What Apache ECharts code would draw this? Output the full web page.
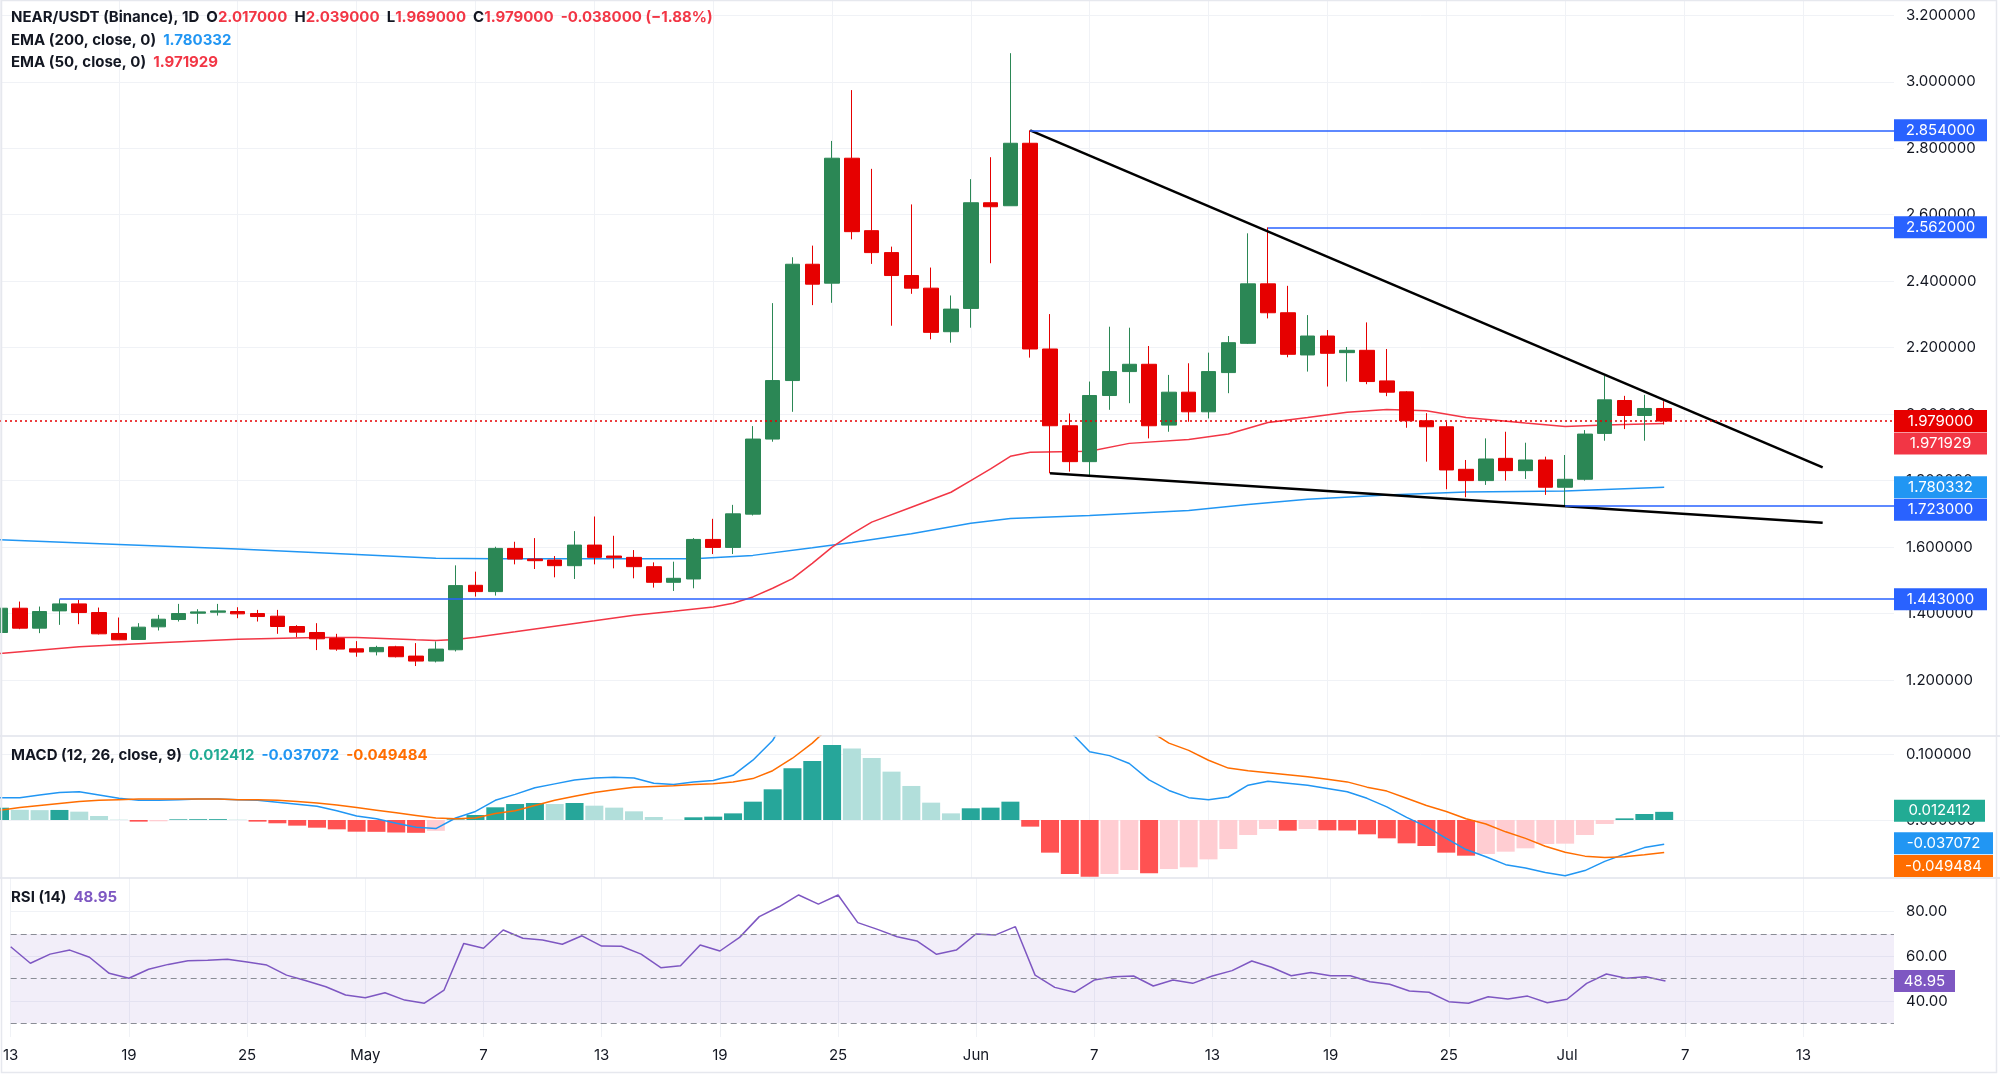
<!DOCTYPE html>
<html><head><meta charset="utf-8">
<script src="https://cdn.jsdelivr.net/npm/echarts@6/dist/echarts.min.js"></script>
<style>html,body{margin:0;padding:0;background:#fff}#c{width:2000px;height:1087px}</style>
</head><body><div id="c"></div>
<script>
// ---------------- DATA (day index 0 = Apr 13) ----------------
const opens  = [1.343,1.416,1.356,1.408,1.429,1.403,1.340,1.322,1.360,1.382,1.401,1.404,1.406,1.400,1.392,1.361,1.343,1.325,1.294,1.285,1.300,1.272,1.257,1.291,1.485,1.466,1.596,1.564,1.561,1.544,1.606,1.573,1.569,1.541,1.494,1.504,1.623,1.599,1.699,1.925,2.101,2.451,2.394,2.770,2.552,2.486,2.417,2.379,2.248,2.318,2.636,2.627,2.815,2.196,1.965,1.857,2.056,2.128,2.150,1.967,2.066,2.007,2.125,2.213,2.392,2.305,2.178,2.235,2.185,2.192,2.100,2.067,1.980,1.962,1.834,1.800,1.867,1.830,1.862,1.780,1.804,1.942,2.041,1.996,2.017];
const highs  = [1.425,1.436,1.421,1.443,1.441,1.418,1.388,1.371,1.396,1.429,1.413,1.429,1.419,1.411,1.411,1.365,1.371,1.339,1.317,1.303,1.303,1.311,1.316,1.545,1.526,1.601,1.616,1.627,1.573,1.648,1.692,1.634,1.591,1.554,1.556,1.627,1.685,1.727,1.964,2.334,2.472,2.507,2.822,2.975,2.738,2.504,2.631,2.441,2.357,2.707,2.773,3.086,2.854,2.301,2.002,2.098,2.263,2.260,2.205,2.118,2.153,2.185,2.235,2.544,2.562,2.386,2.298,2.253,2.202,2.276,2.196,2.069,2.003,1.977,1.862,1.927,1.947,1.914,1.872,1.877,1.952,2.115,2.055,2.058,2.039];
const lows   = [1.335,1.353,1.341,1.366,1.368,1.337,1.321,1.321,1.349,1.376,1.369,1.394,1.386,1.376,1.339,1.329,1.290,1.288,1.270,1.274,1.268,1.242,1.253,1.286,1.451,1.454,1.548,1.534,1.509,1.504,1.548,1.536,1.506,1.478,1.468,1.476,1.579,1.579,1.695,1.917,2.007,2.328,2.335,2.526,2.452,2.266,2.362,2.225,2.215,2.260,2.454,2.627,2.170,1.822,1.827,1.812,2.013,2.033,1.927,1.947,1.977,1.987,2.063,2.211,2.288,2.171,2.128,2.083,2.098,2.090,2.054,1.959,1.857,1.774,1.750,1.787,1.800,1.805,1.757,1.723,1.800,1.920,1.955,1.920,1.969];
const closes = [1.416,1.356,1.406,1.429,1.403,1.339,1.321,1.359,1.383,1.400,1.405,1.408,1.399,1.391,1.361,1.344,1.324,1.293,1.284,1.298,1.270,1.257,1.293,1.484,1.466,1.596,1.564,1.559,1.544,1.606,1.569,1.568,1.541,1.494,1.506,1.623,1.599,1.700,1.925,2.101,2.451,2.391,2.770,2.549,2.486,2.417,2.379,2.246,2.316,2.636,2.624,2.815,2.196,1.965,1.857,2.056,2.128,2.150,1.965,2.066,2.007,2.128,2.215,2.392,2.305,2.180,2.235,2.183,2.192,2.098,2.066,1.980,1.962,1.832,1.800,1.865,1.830,1.862,1.780,1.804,1.940,2.043,1.996,2.017,1.979];

const ema200Days = [0,6,12,18,22,25,30,35,38,41,43,46,49,51,55,60,63,66,70,74,79,84];
const ema200Vals = [1.622,1.608,1.594,1.578,1.566,1.565,1.565,1.565,1.575,1.598,1.614,1.640,1.672,1.686,1.695,1.710,1.728,1.744,1.757,1.766,1.769,1.780332];
const ema50Days  = [0,4,8,12,16,18,21,22,23,24,26,28,30,32,34,36,37,38,39,40,41,42,43,44,46,48,49,50,51,52,55,57,60,62,64,66,68,70,72,74,77,79,81,84];
const ema50Vals  = [1.280,1.300,1.312,1.323,1.328,1.328,1.321,1.319,1.322,1.329,1.345,1.362,1.378,1.395,1.407,1.420,1.431,1.450,1.476,1.505,1.551,1.600,1.640,1.675,1.720,1.765,1.800,1.835,1.873,1.885,1.888,1.912,1.924,1.940,1.975,1.990,2.006,2.014,2.010,1.990,1.973,1.963,1.967,1.971929];

const macdHist = [0.0187,0.0155,0.0150,0.0153,0.0127,0.0061,0.0005,-0.0025,-0.0020,0.0010,
  0.0012,0.0013,0.0005,-0.0025,-0.0050,-0.0086,-0.0117,-0.0142,-0.0178,-0.0180,
  -0.0190,-0.0195,-0.0165,0.0010,0.0076,0.0193,0.0243,0.0259,0.0243,0.0259,
  0.0218,0.0188,0.0132,0.0046,0.0005,0.0041,0.0051,0.0101,0.0279,0.0467,
  0.0787,0.0898,0.1140,0.1090,0.0944,0.0736,0.0518,0.0264,0.0101,0.0178,
  0.0188,0.0279,-0.0101,-0.0497,-0.0822,-0.0863,-0.0822,-0.0761,-0.0812,-0.0746,
  -0.0720,-0.0599,-0.0442,-0.0228,-0.0137,-0.0162,-0.0137,-0.0157,-0.0160,-0.0218,
  -0.0279,-0.0355,-0.0396,-0.0497,-0.0543,-0.0517,-0.0482,-0.0431,-0.0365,-0.0360,
  -0.0228,-0.0061,0.0025,0.0091,0.012412];
const macdLine = [0.034,0.034,0.038,0.042,0.043,0.038,0.033,0.030,0.030,0.031,
  0.032,0.032,0.031,0.030,0.027,0.024,0.021,0.014,0.006,0.002,
  -0.005,-0.011,-0.013,0.003,0.013,0.030,0.039,0.049,0.055,0.061,
  0.064,0.065,0.064,0.056,0.054,0.058,0.060,0.068,0.091,0.121,
  0.173,0.207,0.259,0.282,0.291,0.288,0.280,0.261,0.247,0.259,
  0.265,0.281,0.240,0.188,0.135,0.104,0.098,0.086,0.061,0.045,
  0.034,0.031,0.035,0.053,0.059,0.056,0.053,0.048,0.043,0.033,
  0.020,0.004,-0.010,-0.028,-0.045,-0.056,-0.068,-0.073,-0.080,-0.085,
  -0.077,-0.063,-0.052,-0.042,-0.037072];
const signalLine = [0.015,0.019,0.022,0.025,0.028,0.030,0.031,0.032,0.032,0.032,
  0.032,0.032,0.031,0.031,0.030,0.028,0.026,0.023,0.019,0.015,
  0.011,0.007,0.003,0.002,0.003,0.010,0.014,0.022,0.030,0.036,
  0.042,0.046,0.050,0.051,0.052,0.054,0.055,0.058,0.063,0.075,
  0.094,0.117,0.145,0.173,0.196,0.215,0.228,0.234,0.237,0.241,
  0.246,0.253,0.250,0.238,0.218,0.196,0.175,0.156,0.136,0.117,
  0.106,0.091,0.079,0.075,0.072,0.069,0.066,0.062,0.058,0.050,
  0.044,0.033,0.022,0.013,0.002,-0.006,-0.018,-0.028,-0.040,-0.049,
  -0.055,-0.057,-0.056,-0.053,-0.049484];
const rsiVals = [64.3,56.9,61.0,62.8,59.6,52.4,50.2,54.2,56.4,58.0,
  58.3,58.7,57.5,56.1,51.6,49.1,46.4,42.7,41.5,43.7,
  40.4,39.0,44.9,65.8,63.6,71.8,68.1,67.3,65.4,69.2,
  64.6,64.5,61.0,54.9,55.8,65.1,62.4,68.5,77.8,82.2,
  87.5,83.4,87.5,75.1,72.1,68.8,66.9,60.9,62.8,70.0,
  69.6,73.3,51.6,46.1,43.9,49.4,50.9,51.2,46.7,49.4,
  47.9,51.2,53.6,57.9,55.1,51.3,52.8,51.3,51.3,48.6,
  47.5,44.5,43.9,39.7,39.0,41.9,40.9,42.2,39.2,40.8,
  47.9,52.1,50.2,50.9,48.95];

const levelValues = [2.854, 2.562, 1.723, 1.443];
const levelStartDays = [52, 64, 79, 3];
const upperTrend = [[52, 2.854], [92, 1.840]];
const lowerTrend = [[53, 1.822], [92, 1.673]];

const tickDays   = [0,6,12,18,24,30,36,42,49,55,61,67,73,79,85,91];
const tickLabels = ['13','19','25','May','7','13','19','25','Jun','7','13','19','25','Jul','7','13'];
const priceTicks = [1.2,1.4,1.6,1.8,2.0,2.2,2.4,2.6,2.8,3.0,3.2];
const macdTicks  = [0, 0.1];
const rsiTicks   = [40, 60, 80];
const rsiBands   = [70, 50, 30];

// ---------------- STYLE / LAYOUT ----------------
const FONT = 'Inter, "Noto Sans", sans-serif';
const UP = '#2b8755', DOWN = '#e60000';
const TXT = '#131722';
const GRIDC = '#f0f2f6';
const XMAX = 95.6;
const N = closes.length;

const candleData = opens.map((o, i) => [i, o, closes[i], lows[i], highs[i]]);
const zip = (xs, ys) => xs.map((x, i) => [x, ys[i]]);
const histData = macdHist.map((v, i) => {
  const prev = i > 0 ? macdHist[i - 1] : -Infinity;
  let c;
  if (v >= 0) c = (i === 0 || v >= prev) ? '#26a69a' : '#b2dfdb';
  else c = (v < prev) ? '#ff5252' : '#ffcdd2';
  return { value: [i, v], itemStyle: { color: c } };
});

const lastO = opens[N-1], lastH = highs[N-1], lastL = lows[N-1], lastC = closes[N-1];
const chg = lastC - lastO;
const pct = chg / lastO * 100;
const ema200Last = ema200Vals[ema200Vals.length - 1];
const ema50Last = ema50Vals[ema50Vals.length - 1];

function box(v, text, color, w, dy) {
  return {
    coord: [XMAX, v], symbol: 'rect', symbolSize: [w, 22], symbolOffset: [w / 2, dy],
    itemStyle: { color: color },
    label: { show: true, position: 'inside', formatter: text, color: '#fff', fontSize: 15, fontFamily: FONT }
  };
}

const xAxisOf = (gi, showLabel) => ({
  type: 'value', gridIndex: gi, min: 0, max: XMAX,
  axisLine: { show: false }, axisTick: { show: false, customValues: tickDays },
  axisLabel: { show: showLabel, customValues: tickDays, margin: 11, color: TXT, fontSize: 15, fontFamily: FONT,
    alignMinLabel: 'center', alignMaxLabel: 'center', hideOverlap: false,
    formatter: v => { const k = tickDays.indexOf(Math.round(v)); return k >= 0 ? tickLabels[k] : ''; } },
  splitLine: { show: true, lineStyle: { color: GRIDC, width: 1 } }
});
const yAxisOf = (gi, min, max, ticks, dec) => ({
  type: 'value', gridIndex: gi, position: 'right', min: min, max: max, scale: true,
  axisLine: { show: false }, axisTick: { show: false, customValues: ticks },
  axisLabel: { customValues: ticks, margin: 12, color: TXT, fontSize: 15, fontFamily: FONT, formatter: v => v.toFixed(dec) },
  splitLine: { show: true, lineStyle: { color: GRIDC, width: 1 } }
});

const rich = {
  t: { color: TXT, fontSize: 15, fontFamily: FONT },
  r: { color: '#f23645', fontSize: 15, fontFamily: FONT },
  b: { color: '#2196f3', fontSize: 15, fontFamily: FONT },
  g: { color: '#22ab94', fontSize: 15, fontFamily: FONT },
  o: { color: '#ff6d00', fontSize: 15, fontFamily: FONT },
  p: { color: '#7e57c2', fontSize: 15, fontFamily: FONT }
};
const f6 = v => v.toFixed(6);
const titles = [
  { top: 10, text: `{t|NEAR/USDT (Binance), 1D  O}{r|${f6(lastO)}}{t|  H}{r|${f6(lastH)}}{t|  L}{r|${f6(lastL)}}{t|  C}{r|${f6(lastC)}}{r|  ${f6(chg)} (\u2212${Math.abs(pct).toFixed(2)}%)}` },
  { top: 33, text: `{t|EMA (200, close, 0)  }{b|${f6(ema200Last)}}` },
  { top: 55, text: `{t|EMA (50, close, 0)  }{r|${f6(ema50Last)}}` },
  { top: 748, text: `{t|MACD (12, 26, close, 9)  }{g|${f6(macdHist[N-1])}}{b|  ${f6(macdLine[N-1])}}{o|  ${f6(signalLine[N-1])}}` },
  { top: 890, text: `{t|RSI (14)  }{p|${rsiVals[N-1].toFixed(2)}}` }
].map(t => ({ left: 11, top: t.top, padding: 0, text: t.text, textStyle: { rich: rich } }));

const option = {
  animation: false,
  backgroundColor: '#ffffff',
  title: titles,
  grid: [
    { left: 0, right: 106, top: 0, height: 736 },
    { left: 0, right: 106, top: 736, height: 142 },
    { left: 0, right: 106, top: 878, height: 159 }
  ],
  xAxis: [xAxisOf(0, false), xAxisOf(1, false), xAxisOf(2, true)],
  yAxis: [
    yAxisOf(0, 1.03154, 3.24604, priceTicks, 6),
    yAxisOf(1, -0.08828, 0.12785, macdTicks, 6),
    yAxisOf(2, 23.875, 95.095, rsiTicks, 2)
  ],
  graphic: [
    { type: 'line', shape: { x1: 0, y1: 736, x2: 2000, y2: 736 }, style: { stroke: '#e0e3eb', lineWidth: 1.5 }, z: 100 },
    { type: 'line', shape: { x1: 0, y1: 878, x2: 2000, y2: 878 }, style: { stroke: '#e0e3eb', lineWidth: 1.5 }, z: 100 },
    { type: 'rect', shape: { x: 1.5, y: 0.5, width: 1995, height: 1072 }, style: { fill: 'none', stroke: '#e6e8ee', lineWidth: 1.5 }, z: 100 }
  ],
  series: [
    {
      type: 'candlestick', xAxisIndex: 0, yAxisIndex: 0, data: candleData, barWidth: 15,
      itemStyle: { color: UP, color0: DOWN, borderColor: UP, borderColor0: DOWN, borderWidth: 1 }, z: 3
    },
    {
      type: 'line', xAxisIndex: 0, yAxisIndex: 0, data: zip(ema200Days, ema200Vals), symbol: 'none',
      lineStyle: { color: '#2196f3', width: 1.5 }, z: 2
    },
    {
      type: 'line', xAxisIndex: 0, yAxisIndex: 0, data: zip(ema50Days, ema50Vals), symbol: 'none',
      lineStyle: { color: '#f23645', width: 1.5 }, z: 2,
      markLine: {
        silent: true, symbol: ['none', 'none'], label: { show: false },
        data: levelValues.map((v, i) => [
          { coord: [levelStartDays[i], v], lineStyle: { color: '#2962ff', width: 1.5, type: 'solid' } },
          { coord: [XMAX, v] }
        ]).concat([[
          { coord: [0, lastC], lineStyle: { color: '#e60000', width: 1.5, type: [2, 3] } },
          { coord: [XMAX, lastC] }
        ]])
      },
      markPoint: {
        silent: true,
        data: [
          box(levelValues[0], f6(levelValues[0]), '#2962ff', 93, 0),
          box(levelValues[1], f6(levelValues[1]), '#2962ff', 93, 0),
          box(lastC, f6(lastC), '#e60000', 93, 0),
          box(ema50Last, f6(ema50Last), '#f23645', 93, 20),
          box(ema200Last, f6(ema200Last), '#2196f3', 93, 0),
          box(levelValues[2], f6(levelValues[2]), '#2962ff', 93, 3.5),
          box(levelValues[3], f6(levelValues[3]), '#2962ff', 93, 0)
        ]
      }
    },
    {
      type: 'line', xAxisIndex: 0, yAxisIndex: 0, data: upperTrend, symbol: 'none',
      lineStyle: { color: '#000', width: 2.5 }, z: 4
    },
    {
      type: 'line', xAxisIndex: 0, yAxisIndex: 0, data: lowerTrend, symbol: 'none',
      lineStyle: { color: '#000', width: 2.5 }, z: 4
    },
    // MACD pane
    {
      type: 'bar', xAxisIndex: 1, yAxisIndex: 1, data: histData, barWidth: 18
    },
    {
      type: 'line', xAxisIndex: 1, yAxisIndex: 1, data: macdLine.map((v, i) => [i, v]), symbol: 'none',
      lineStyle: { color: '#2196f3', width: 1.5 }, z: 3
    },
    {
      type: 'line', xAxisIndex: 1, yAxisIndex: 1, data: signalLine.map((v, i) => [i, v]), symbol: 'none',
      lineStyle: { color: '#ff6d00', width: 1.5 }, z: 3,
      markPoint: {
        silent: true,
        data: [
          box(macdHist[N-1], f6(macdHist[N-1]), '#22ab94', 91, -1),
          box(macdLine[N-1], f6(macdLine[N-1]), '#2196f3', 99, -1),
          box(signalLine[N-1], f6(signalLine[N-1]), '#ff6d00', 99, 13.5)
        ]
      }
    },
    // RSI pane
    {
      type: 'line', xAxisIndex: 2, yAxisIndex: 2, data: rsiVals.map((v, i) => [i, v]), symbol: 'none',
      lineStyle: { color: '#7e57c2', width: 1.5 }, z: 3,
      markArea: {
        silent: true, itemStyle: { color: 'rgba(126,87,194,0.1)' },
        data: [[{ coord: [0, rsiBands[2]] }, { coord: [XMAX, rsiBands[0]] }]]
      },
      markLine: {
        silent: true, symbol: ['none', 'none'], label: { show: false },
        lineStyle: { color: '#8a8d96', width: 1.2, type: [6, 4] },
        data: rsiBands.map(v => ({ yAxis: v }))
      },
      markPoint: {
        silent: true,
        data: [box(rsiVals[N-1], rsiVals[N-1].toFixed(2), '#7e57c2', 61, 0)]
      }
    }
  ]
};
const chart = echarts.init(document.getElementById('c'), null, { renderer: 'canvas' });
chart.setOption(option);
</script>
</body></html>
